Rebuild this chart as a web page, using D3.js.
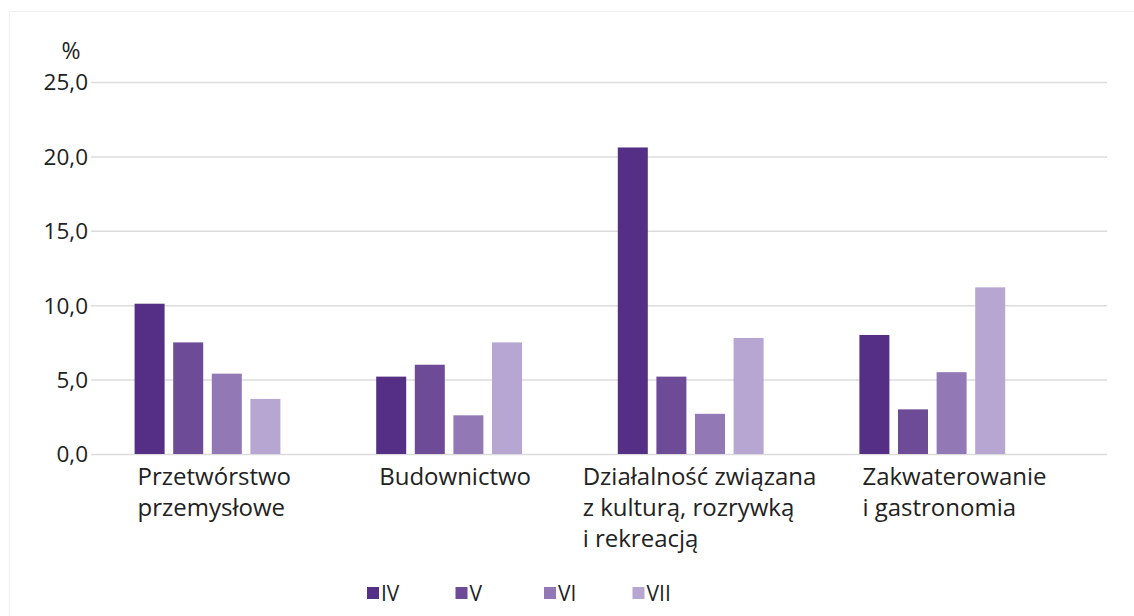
<!DOCTYPE html>
<html>
<head>
<meta charset="utf-8">
<script src="https://cdn.jsdelivr.net/npm/d3@7"></script>
<style>
  body { margin: 0; background: #fff; }
  text { font-family: "Open Sans", "Noto Sans", sans-serif; fill: #222; }
</style>
</head>
<body>
<div id="chart"></div>
<script>
// Chart data
let categories = [
    ["Przetwórstwo", "przemysłowe"],
    ["Budownictwo"],
    ["Działalność związana", "z kulturą, rozrywką", "i rekreacją"],
    ["Zakwaterowanie", "i gastronomia"]
];
let seriesNames = ["IV", "V", "VI", "VII"];
let valuesIV  = [10.1, 5.2, 20.6, 8.0];
let valuesV   = [7.5, 6.0, 5.2, 3.0];
let valuesVI  = [5.4, 2.6, 2.7, 5.5];
let valuesVII = [3.7, 7.5, 7.8, 11.2];
let yTicks = [0, 5, 10, 15, 20, 25];

let colors = ['#542f85', '#6e4b96', '#9279b5', '#b7a5d2'];

let drawChart = function(){
    /* Grouped bar chart */
    let width = 1134, height = 616;
    let plot = {left: 91, right: 1107, top: 82, bottom: 454};

    let series = [valuesIV, valuesV, valuesVI, valuesVII];
    let catKeys = categories.map(function(c){ return c.join(" "); });

    let svg = d3.select('#chart').append("svg")
        .attr("width", width)
        .attr("height", height);

    // faint frame round the chart
    svg.append("rect")
        .attr("x", 9.5).attr("y", 11.5)
        .attr("width", 1200).attr("height", 700)
        .attr("fill", "none")
        .attr("stroke", "#f0f0f0");

    let yScale = d3.scaleLinear()
        .domain([0, 25])
        .range([plot.bottom, plot.top]);

    // one band per category, bars sit at the left of each band
    let x0 = d3.scaleBand()
        .domain(catKeys)
        .range([134.6, 1101])
        .paddingInner(0).paddingOuter(0).align(0);

    let x1 = d3.scaleBand()
        .domain(seriesNames)
        .range([0, 145.8])
        .paddingInner(0.223).paddingOuter(0);

    let fmt = d3.formatLocale({decimal: ",", thousands: " ", grouping: [3], currency: ["", ""]}).format(".1f");

    // grid + y labels
    let yAxis = d3.axisLeft(yScale)
        .tickValues(yTicks)
        .tickSize(-(plot.right - plot.left))
        .tickPadding(3)
        .tickFormat(fmt);

    let gy = svg.append("g")
        .attr("transform", "translate(" + plot.left + ",0)")
        .call(yAxis);
    gy.select(".domain").remove();
    gy.selectAll(".tick line")
        .attr("stroke", "#dcdcdc")
        .attr("stroke-width", 1.5);
    gy.selectAll(".tick text")
        .attr("x", -3)
        .attr("dy", "0.35em")
        .style("font-size", "22.5px")
        .attr("fill", "#222");

    svg.append("text")
        .attr("x", 71).attr("y", 59)
        .attr("text-anchor", "middle")
        .style("font-size", "23px")
        .text("%");

    // bars
    let groups = svg.selectAll(".group").data(catKeys)
        .enter().append("g")
        .attr("class", "group")
        .attr("transform", function(d){ return "translate(" + x0(d) + ",0)"; });

    groups.selectAll("rect")
        .data(function(d, ci){
            return seriesNames.map(function(s, si){ return {s: s, si: si, v: series[si][ci]}; });
        })
        .enter().append("rect")
        .attr("x", function(d){ return x1(d.s); })
        .attr("y", function(d){ return yScale(d.v); })
        .attr("width", x1.bandwidth())
        .attr("height", function(d){ return yScale(0) - yScale(d.v); })
        .attr("fill", function(d){ return colors[d.si]; });

    // category labels, left aligned with the group, pushed left if they would hit the next one
    let labels = svg.selectAll(".catLabel").data(categories)
        .enter().append("text")
        .attr("class", "catLabel")
        .style("font-size", "24px")
        .attr("y", 485);
    labels.selectAll("tspan")
        .data(function(d){ return d; })
        .enter().append("tspan")
        .attr("x", 0)
        .attr("dy", function(d, i){ return i === 0 ? 0 : 31; })
        .text(function(d){ return d; });
    let labelX = catKeys.map(function(k){ return x0(k) + 3; });
    labels.each(function(d, i){
        let w = this.getBBox().width;
        let x = labelX[i];
        if(i < catKeys.length - 1){
            x = Math.min(x, labelX[i + 1] - 46 - w);
        }
        d3.select(this).selectAll("tspan").attr("x", x);
    });

    // legend
    let legend = svg.selectAll(".lineLegend").data(seriesNames)
        .enter().append("g")
        .attr("class", "lineLegend")
        .attr("transform", function(d, i){ return "translate(" + (367 + i * 88.5) + ",587)"; });
    legend.append("rect")
        .attr("width", 12).attr("height", 12)
        .attr("fill", function(d, i){ return colors[i]; });
    legend.append("text")
        .attr("x", 14).attr("y", 13.5)
        .style("font-size", "21px")
        .text(function(d){ return d; });
};

drawChart();
</script>
</body>
</html>
